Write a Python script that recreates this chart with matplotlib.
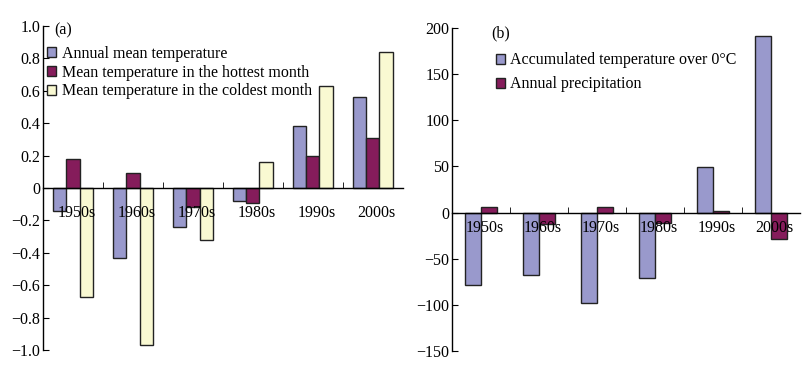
import numpy as np
import matplotlib.pyplot as plt
from matplotlib.patches import Patch
from matplotlib.transforms import ScaledTranslation

plt.rcParams['font.family'] = ['Liberation Serif', 'DejaVu Serif']

# datos
decadas = ['1950s', '1960s', '1970s', '1980s', '1990s', '2000s']
t_anual = [-0.14, -0.43, -0.24, -0.08, 0.38, 0.56]
t_caliente = [0.18, 0.09, -0.12, -0.09, 0.20, 0.31]
t_fria = [-0.67, -0.97, -0.32, 0.16, 0.63, 0.84]
acumulada = [-79, -68, -98, -71, 49, 191]
precip = [6, -12, 6, -11, 2, -29]

c_azul = '#9999cc'
c_vino = '#851c5b'
c_crema = '#f9f9d2'
borde = '#222222'

fig = plt.figure(figsize=(8.03, 3.70), dpi=100)
ax1 = fig.add_axes([0.0535, 0.054, 0.448, 0.876])
ax2 = fig.add_axes([0.563, 0.0514, 0.433, 0.8726])

x = np.arange(len(decadas))


def estilo(ax, ymin, ymax, yticks, fmt, pad_x):
    ax.set_xlim(-0.5, len(decadas) - 0.5)
    ax.set_ylim(ymin, ymax)
    ax.spines['top'].set_visible(False)
    ax.spines['right'].set_visible(False)
    ax.spines['bottom'].set_position(('data', 0))
    for s in ax.spines.values():
        s.set_linewidth(1.0)
    ax.set_yticks(yticks)
    ax.set_yticklabels([fmt(v).replace('-', '\u2212') for v in yticks])
    ax.tick_params(axis='y', direction='in', length=4, labelsize=11.5, pad=2)
    ax.set_xticks(x)
    ax.set_xticklabels(decadas)
    ax.tick_params(axis='x', which='major', length=0, labelsize=11.5, pad=pad_x)
    ax.set_xticks(np.arange(0.5, len(decadas) - 0.5, 1), minor=True)
    ax.tick_params(axis='x', which='minor', direction='in', length=4)
    # las etiquetas estan un poco corridas a la derecha en el original
    off = ScaledTranslation(4 / 100, 0, fig.dpi_scale_trans)
    for lab in ax.get_xticklabels():
        lab.set_transform(lab.get_transform() + off)


# (a)
w = 0.222
ax1.bar(x - w, t_anual, w, color=c_azul, edgecolor=borde, linewidth=1)
ax1.bar(x, t_caliente, w, color=c_vino, edgecolor=borde, linewidth=1)
ax1.bar(x + w, t_fria, w, color=c_crema, edgecolor=borde, linewidth=1)
estilo(ax1, -1.0, 1.0, np.arange(-1.0, 1.01, 0.2),
       lambda v: '0' if abs(v) < 1e-9 else '%.1f' % v, 12)
ax1.text(0.03, 0.985, '(a)', transform=ax1.transAxes, fontsize=11.5, va='center')
h1 = [Patch(facecolor=c, edgecolor=borde, linewidth=1) for c in (c_azul, c_vino, c_crema)]
ax1.legend(h1, ['Annual mean temperature', 'Mean temperature in the hottest month',
                'Mean temperature in the coldest month'],
           loc='upper left', bbox_to_anchor=(0.01, 0.938), frameon=False,
           fontsize=11.5, handlelength=0.6, handleheight=0.6, handletextpad=0.35,
           labelspacing=0.17, borderaxespad=0, borderpad=0)

# (b)
w2 = 0.28
ax2.bar(x - w2 / 2, acumulada, w2, color=c_azul, edgecolor=borde, linewidth=1)
ax2.bar(x + w2 / 2, precip, w2, color=c_vino, edgecolor=borde, linewidth=1)
estilo(ax2, -150, 200, np.arange(-150, 201, 50), lambda v: '%d' % v, 5.5)
ax2.text(0.113, 0.985, '(b)', transform=ax2.transAxes, fontsize=11.5, va='center')
h2 = [Patch(facecolor=c, edgecolor=borde, linewidth=1) for c in (c_azul, c_vino)]
ax2.legend(h2, ['Accumulated temperature over 0\u00b0C', 'Annual precipitation'],
           loc='upper left', bbox_to_anchor=(0.125, 0.925), frameon=False,
           fontsize=11.5, handlelength=0.6, handleheight=0.6, handletextpad=0.3,
           labelspacing=0.5, borderaxespad=0, borderpad=0)

fig.savefig('out.png', dpi=100)
